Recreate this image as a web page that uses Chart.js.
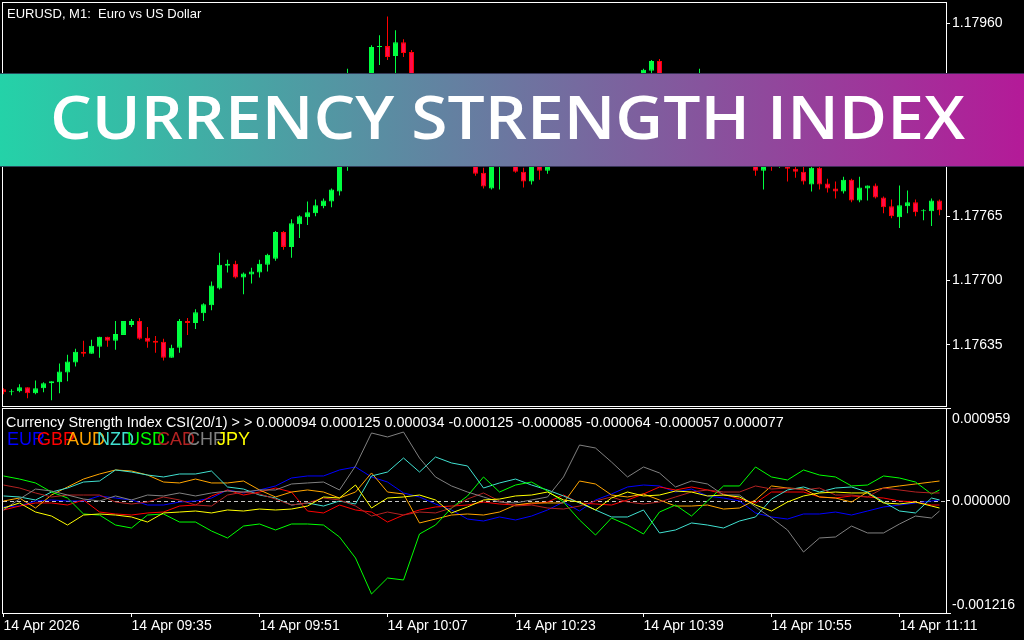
<!DOCTYPE html>
<html>
<head>
<meta charset="utf-8">
<script src="https://cdn.jsdelivr.net/npm/chart.js@4.4.1/dist/chart.umd.min.js"></script>
<style>
  html, body { margin: 0; padding: 0; background: #000; }
  #wrap { position: relative; width: 1024px; height: 640px; overflow: hidden; background: #000; }
  #top { position: absolute; left: 0; top: 0; }
  #bot { position: absolute; left: 0; top: 407px; }
</style>
</head>
<body>
<div id="wrap">
  <canvas id="top" width="1024" height="407"></canvas>
  <canvas id="bot" width="1024" height="233"></canvas>
</div>
<script>
// ---- EURUSD M1 candles (118 bars, 09:19 .. 11:16) ----
const open = [1.17590,1.17587,1.17588,1.17592,1.17586,1.17591,1.17596,1.17597,1.17607,1.17617,
  1.17628,1.17626,1.17633,1.17643,1.17639,1.17645,1.17655,1.17659,1.17642,1.17639,
  1.17638,1.17622,1.17632,1.17659,1.17657,1.17667,1.17675,1.17692,1.17715,1.17717,
  1.17703,1.17706,1.17708,1.17716,1.17722,1.17749,1.17734,1.17757,1.17764,1.17768,
  1.17775,1.17780,1.17790,1.17832,1.17862,1.17882,1.17898,1.17936,1.17937,1.17927,
  1.17941,1.17931,1.17888,1.17872,1.17885,1.17857,1.17842,1.17852,1.17832,1.17820,
  1.17809,1.17793,1.17824,1.17827,1.17820,1.17810,1.17800,1.17819,1.17811,1.17827,
  1.17837,1.17830,1.17847,1.17857,1.17850,1.17867,1.17877,1.17870,1.17888,1.17893,
  1.17885,1.17912,1.17922,1.17888,1.17877,1.17889,1.17872,1.17882,1.17898,1.17872,
  1.17857,1.17867,1.17842,1.17832,1.17820,1.17811,1.17824,1.17818,1.17822,1.17813,
  1.17810,1.17797,1.17814,1.17798,1.17793,1.17790,1.17802,1.17781,1.17793,1.17796,
  1.17784,1.17775,1.17764,1.17775,1.17779,1.17770,1.17770,1.17781];
const high = [1.17591,1.17590,1.17595,1.17592,1.17599,1.17597,1.17598,1.17616,1.17625,1.17631,
  1.17639,1.17640,1.17643,1.17643,1.17659,1.17659,1.17661,1.17662,1.17653,1.17644,
  1.17641,1.17635,1.17661,1.17662,1.17671,1.17677,1.17699,1.17728,1.17721,1.17720,
  1.17708,1.17713,1.17721,1.17727,1.17750,1.17750,1.17762,1.17766,1.17780,1.17782,
  1.17783,1.17793,1.17834,1.17914,1.17888,1.17903,1.17938,1.17948,1.17967,1.17953,
  1.17944,1.17933,1.17891,1.17888,1.17887,1.17862,1.17854,1.17854,1.17837,1.17822,
  1.17814,1.17827,1.17842,1.17832,1.17822,1.17814,1.17822,1.17822,1.17832,1.17842,
  1.17842,1.17852,1.17862,1.17862,1.17872,1.17882,1.17882,1.17891,1.17895,1.17898,
  1.17914,1.17923,1.17924,1.17891,1.17892,1.17892,1.17887,1.17914,1.17901,1.17877,
  1.17872,1.17870,1.17847,1.17837,1.17822,1.17832,1.17832,1.17832,1.17827,1.17815,
  1.17816,1.17815,1.17816,1.17803,1.17800,1.17805,1.17803,1.17805,1.17796,1.17798,
  1.17785,1.17782,1.17796,1.17791,1.17782,1.17772,1.17783,1.17782];
const low = [1.17585,1.17584,1.17587,1.17581,1.17585,1.17587,1.17579,1.17586,1.17598,1.17613,
  1.17623,1.17626,1.17622,1.17633,1.17630,1.17645,1.17653,1.17640,1.17632,1.17627,
  1.17619,1.17622,1.17627,1.17645,1.17651,1.17659,1.17670,1.17691,1.17708,1.17702,
  1.17686,1.17697,1.17703,1.17709,1.17720,1.17731,1.17723,1.17743,1.17756,1.17765,
  1.17773,1.17774,1.17786,1.17811,1.17852,1.17874,1.17895,1.17918,1.17923,1.17903,
  1.17926,1.17883,1.17867,1.17864,1.17852,1.17837,1.17832,1.17827,1.17817,1.17806,
  1.17793,1.17792,1.17792,1.17817,1.17809,1.17794,1.17797,1.17802,1.17808,1.17822,
  1.17824,1.17827,1.17842,1.17844,1.17847,1.17862,1.17864,1.17867,1.17883,1.17880,
  1.17883,1.17906,1.17885,1.17872,1.17874,1.17867,1.17870,1.17877,1.17867,1.17854,
  1.17852,1.17837,1.17827,1.17817,1.17806,1.17792,1.17811,1.17814,1.17800,1.17804,
  1.17797,1.17790,1.17792,1.17789,1.17783,1.17788,1.17779,1.17779,1.17781,1.17783,
  1.17768,1.17763,1.17753,1.17768,1.17765,1.17761,1.17755,1.17766];
const close = [1.17587,1.17588,1.17592,1.17586,1.17591,1.17596,1.17598,1.17608,1.17618,1.17628,
  1.17626,1.17634,1.17643,1.17639,1.17646,1.17659,1.17659,1.17641,1.17638,1.17637,
  1.17622,1.17632,1.17659,1.17657,1.17668,1.17676,1.17695,1.17716,1.17717,1.17703,
  1.17707,1.17709,1.17717,1.17726,1.17749,1.17734,1.17758,1.17765,1.17769,1.17776,
  1.17781,1.17792,1.17832,1.17864,1.17885,1.17898,1.17936,1.17937,1.17926,1.17941,
  1.17930,1.17888,1.17872,1.17885,1.17857,1.17842,1.17852,1.17832,1.17822,1.17808,
  1.17795,1.17822,1.17837,1.17820,1.17810,1.17800,1.17819,1.17811,1.17827,1.17837,
  1.17830,1.17847,1.17857,1.17850,1.17867,1.17877,1.17870,1.17888,1.17893,1.17885,
  1.17913,1.17922,1.17888,1.17877,1.17889,1.17872,1.17882,1.17898,1.17872,1.17857,
  1.17867,1.17842,1.17832,1.17820,1.17811,1.17824,1.17818,1.17827,1.17813,1.17810,
  1.17800,1.17814,1.17797,1.17793,1.17790,1.17802,1.17781,1.17794,1.17796,1.17784,
  1.17774,1.17765,1.17776,1.17779,1.17769,1.17771,1.17781,1.17771];
const priceTicks = [1.17960, 1.17895, 1.17830, 1.17765, 1.17700, 1.17635];

// time axis
const timeTickBars = [0, 16, 32, 48, 64, 80, 96, 112];
const timeTickLabels = ['14 Apr 2026', '14 Apr 09:35', '14 Apr 09:51', '14 Apr 10:07',
  '14 Apr 10:23', '14 Apr 10:39', '14 Apr 10:55', '14 Apr 11:11'];

// ---- Currency Strength Index, values in millionths (1e-6) ----
const csiBars = [0,2,4,6,8,10,12,14,16,18,20,22,24,26,28,30,32,34,36,38,40,42,44,46,48,50,52,54,56,58,
  60,62,64,66,68,70,72,74,76,78,80,82,84,86,88,90,92,94,96,98,100,102,104,106,108,110,112,114,116,117];
const csiEUR = [-70,-59,0,12,0,0,59,35,12,-47,-47,-12,0,35,129,94,129,176,269,293,293,363,398,281,222,94,47,-35,-105,-211,
  -234,-187,-222,-176,-105,-12,-117,12,82,164,187,176,105,140,59,35,0,-140,-187,-211,-152,-152,-129,-164,-117,-70,-47,-23,0,12];
const csiGBP = [-105,-59,-23,-23,-47,12,-129,-152,-164,-140,-129,-59,-47,59,129,70,105,152,105,-117,-140,-47,-105,-129,-246,-164,-105,-70,-59,-47,
  -12,-35,-47,-35,-12,70,-23,-35,-47,12,82,164,129,164,129,82,23,-23,105,105,105,47,35,59,47,35,0,-12,-47,-47];
const csiAUD = [0,35,-82,70,164,257,316,363,351,304,222,211,257,211,211,234,129,47,105,129,105,35,105,328,105,82,-257,-211,-164,-152,
  -164,-129,-47,-23,-23,-23,234,199,70,47,82,12,-59,-59,-47,-94,-82,12,176,152,140,47,35,-12,105,152,176,199,222,234];
const csiNZD = [59,47,12,105,152,222,234,363,339,304,281,316,316,351,164,140,70,35,-47,-23,-59,0,-35,293,339,503,339,515,445,410,
  152,211,257,187,129,59,-23,-105,-187,-187,-105,-374,-339,-257,-281,-316,-234,-187,23,129,164,105,152,164,105,-12,-117,-140,35,12];
const csiUSD = [293,257,211,105,35,-152,-164,-281,-316,-164,-152,-246,-246,-351,-433,-293,-269,-339,-269,-269,-281,-421,-667,-1088,-901,-924,-386,-281,-82,59,
  281,105,187,222,117,-12,-222,-398,-199,-281,-386,-129,-47,-176,0,176,176,398,281,246,363,304,281,176,187,293,269,222,82,129];
const csiCAD = [187,152,94,47,70,70,70,-12,-35,-12,47,12,-47,-59,70,105,82,23,-47,-23,35,12,-59,-176,-129,-164,-129,-140,-82,23,
  94,0,-59,-47,-82,-94,-59,0,47,-12,-35,-12,47,105,129,105,105,176,140,152,129,152,70,70,47,152,129,105,94,94];
const csiCHF = [-105,23,140,117,70,23,0,59,12,70,59,94,59,94,117,105,129,129,199,211,222,129,410,796,749,807,503,281,176,105,
  47,-12,-23,12,47,281,655,620,456,281,398,328,164,234,199,70,70,-70,-199,-339,-597,-433,-421,-293,-374,-374,-269,-176,-199,-117];
const csiJPY = [-82,-23,-129,-176,-281,-164,-152,-164,-187,-246,-140,-129,-117,-140,-105,-117,-94,-105,-94,-59,47,35,187,-82,35,47,70,12,-140,-70,
  12,23,59,70,105,12,-12,-105,35,105,59,70,117,105,59,70,47,-47,-117,-12,59,94,105,94,94,-23,-35,-12,-59,-82];
const csiTicks = [0.000959, 0, -0.001216];
const lastValues = [0.000094, 0.000125, 0.000034, -0.000125, -0.000085, -0.000064, -0.000057, 0.000077];

const currencies = ['EUR', 'GBP', 'AUD', 'NZD', 'USD', 'CAD', 'CHF', 'JPY'];
const currencyColors = ['#0000ff', '#ff0000', '#ffa500', '#40e0d0', '#00ff00', '#b22222', '#808080', '#ffff00'];
const csiSeries = [csiEUR, csiGBP, csiAUD, csiNZD, csiUSD, csiCAD, csiCHF, csiJPY];

const chartTitle = 'EURUSD, M1:  Euro vs US Dollar';
const bannerText = 'CURRENCY STRENGTH INDEX';
const BULL = '#00ff40';
const BEAR_FILL = '#ff0a4a';
const BEAR_EDGE = '#ff0000';
const axisFont = { family: 'Liberation Sans', size: 14 };

const X_MIN = -0.0625, X_MAX = 117.8125;
const bars = open.map((_, i) => i);

// no label overhang padding, the plot area is set by layout.padding only
function noOverhang(s) {
  s.paddingTop = 0; s.paddingBottom = 0; s.paddingLeft = 0; s.paddingRight = 0;
}

function frame(chart, ext) {
  const { ctx, chartArea: a } = chart;
  ctx.save();
  ctx.strokeStyle = '#ffffff';
  ctx.lineWidth = 1;
  ctx.strokeRect(a.left - 0.5, a.top - 0.5, a.right - a.left + 1, a.bottom - a.top + 1);
  if (ext) {
    ctx.beginPath();
    ctx.moveTo(a.right, a.top - 0.5); ctx.lineTo(a.right + 5, a.top - 0.5);
    ctx.moveTo(a.right, a.bottom + 0.5); ctx.lineTo(a.right + 5, a.bottom + 0.5);
    ctx.stroke();
  }
  ctx.restore();
}

const topDecor = {
  id: 'topDecor',
  afterDraw(chart) {
    const ctx = chart.ctx;
    frame(chart, false);
    ctx.save();
    ctx.fillStyle = '#ffffff';
    ctx.font = '13px "Liberation Sans"';
    ctx.fillText(chartTitle, 7, 18);

    // title banner
    const g = ctx.createLinearGradient(0, 0, 1024, 0);
    g.addColorStop(0, '#24d2a8');
    g.addColorStop(1, '#b41a98');
    ctx.fillStyle = g;
    ctx.fillRect(0, 73, 1024, 94);
    ctx.fillStyle = 'rgba(40,40,70,0.8)';
    ctx.fillRect(0, 73, 1024, 1);
    ctx.fillRect(0, 166, 1024, 1);

    ctx.font = '600 60px "Open Sans"';
    ctx.fillStyle = '#ffffff';
    const w = ctx.measureText(bannerText).width;
    ctx.translate(50, 139);
    ctx.scale(915 / w, 1);
    ctx.fillText(bannerText, 0, 0);
    ctx.restore();
  }
};

const botDecor = {
  id: 'botDecor',
  beforeDatasetsDraw(chart) {
    const { ctx, chartArea: a } = chart;
    const y = Math.round(chart.scales.y.getPixelForValue(0)) + 0.5;
    ctx.save();
    ctx.strokeStyle = '#c8c8c8';
    ctx.lineWidth = 1;
    ctx.setLineDash([4, 3]);
    ctx.beginPath();
    ctx.moveTo(a.left, y);
    ctx.lineTo(a.right, y);
    ctx.stroke();
    ctx.restore();
  },
  afterDraw(chart) {
    const ctx = chart.ctx;
    frame(chart, true);
    ctx.save();
    ctx.fillStyle = '#ffffff';
    ctx.font = '14.4px "Liberation Sans"';
    const head = 'Currency Strength Index CSI(20/1) > > ' + lastValues.map(v => v.toFixed(6)).join(' ');
    ctx.fillText(head, 6, 20);
    ctx.font = '18px "Liberation Sans"';
    currencies.forEach((c, k) => {
      ctx.fillStyle = currencyColors[k];
      ctx.fillText(c, 7 + 30 * k, 38);
    });
    ctx.restore();
  }
};

new Chart(document.getElementById('top'), {
  type: 'bar',
  data: {
    datasets: [
      {
        label: 'body',
        data: bars.map(i => ({ x: i, y: [open[i], close[i]] })),
        backgroundColor: bars.map(i => close[i] >= open[i] ? BULL : BEAR_FILL),
        borderColor: bars.map(i => close[i] >= open[i] ? BULL : BEAR_EDGE),
        borderWidth: 1,
        borderSkipped: false,
        barThickness: 5,
        grouped: false,
        inflateAmount: 0
      },
      {
        label: 'wick',
        data: bars.map(i => ({ x: i, y: [low[i], high[i]] })),
        backgroundColor: bars.map(i => close[i] >= open[i] ? BULL : BEAR_EDGE),
        borderWidth: 0,
        barThickness: 1,
        grouped: false,
        inflateAmount: 0
      }
    ]
  },
  options: {
    responsive: false,
    animation: false,
    devicePixelRatio: 1,
    layout: { padding: { left: 3, top: 3, right: 0, bottom: 1 } },
    plugins: { legend: { display: false }, tooltip: { enabled: false } },
    scales: {
      x: { type: 'linear', display: false, min: X_MIN, max: X_MAX, offset: false },
      y: {
        position: 'right',
        min: 1.175731,
        max: 1.179806,
        afterFit: s => { s.width = 78; noOverhang(s); },
        afterBuildTicks: s => { s.ticks = priceTicks.map(v => ({ value: v })); },
        ticks: { color: '#ffffff', font: axisFont, padding: 2, autoSkip: false, callback: v => v.toFixed(5) },
        grid: { drawOnChartArea: false, color: '#ffffff', tickLength: 4 },
        border: { display: false }
      }
    }
  },
  plugins: [topDecor]
});

new Chart(document.getElementById('bot'), {
  type: 'line',
  data: {
    datasets: currencies.map((c, k) => ({
      label: c,
      data: csiBars.map((b, j) => ({ x: b, y: csiSeries[k][j] * 1e-6 })),
      borderColor: currencyColors[k],
      borderWidth: 1,
      pointRadius: 0,
      tension: 0,
      fill: false,
      order: 7 - k
    }))
  },
  options: {
    responsive: false,
    animation: false,
    devicePixelRatio: 1,
    layout: { padding: { left: 3, top: 2, right: 0, bottom: 0 } },
    plugins: { legend: { display: false }, tooltip: { enabled: false } },
    scales: {
      x: {
        type: 'linear',
        min: X_MIN,
        max: X_MAX,
        offset: false,
        afterFit: s => { s.height = 27; noOverhang(s); },
        afterBuildTicks: s => { s.ticks = timeTickBars.map(v => ({ value: v })); },
        ticks: {
          color: '#ffffff', font: axisFont, maxRotation: 0, autoSkip: false, align: 'start', padding: 1,
          callback: v => timeTickLabels[timeTickBars.indexOf(v)]
        },
        grid: { drawOnChartArea: false, color: '#ffffff', tickLength: 4, offset: false },
        border: { display: false }
      },
      y: {
        position: 'right',
        min: -0.0013104,
        max: 0.0010764,
        afterFit: s => { s.width = 78; noOverhang(s); },
        afterBuildTicks: s => { s.ticks = csiTicks.map(v => ({ value: v })); },
        ticks: { color: '#ffffff', font: axisFont, padding: 2, autoSkip: false, callback: v => v.toFixed(6) },
        grid: {
          drawOnChartArea: false, tickLength: 4,
          color: c => (c.tick && c.tick.value === 0) ? '#ffffff' : 'rgba(0,0,0,0)'
        },
        border: { display: false }
      }
    }
  },
  plugins: [botDecor]
});
</script>
</body>
</html>
